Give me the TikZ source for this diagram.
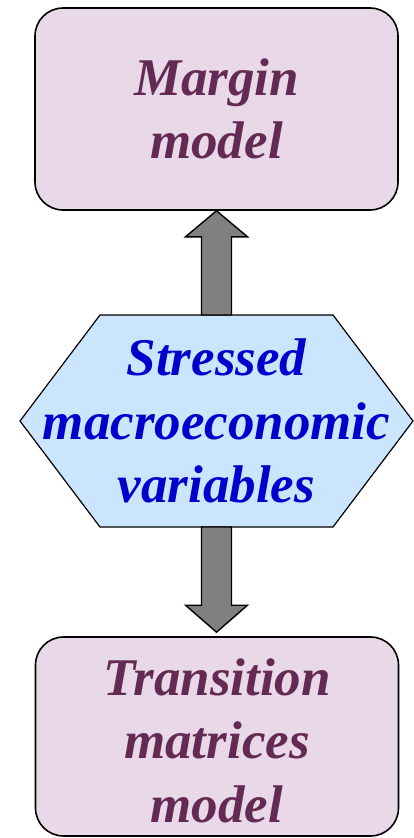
\documentclass[tikz,border=0pt]{standalone}
\usepackage{fontspec}
\setmainfont{Liberation Serif}
\usetikzlibrary{calc,backgrounds}
\definecolor{boxfill}{RGB}{232,216,232}
\definecolor{boxtext}{RGB}{99,43,83}
\definecolor{hexfill}{RGB}{204,229,255}
\definecolor{hextext}{RGB}{0,0,204}
\definecolor{arrfill}{RGB}{128,128,128}
\begin{document}
\begin{tikzpicture}[x=1pt,y=-1pt,
  bigfont/.style={font=\fontsize{53}{63.5}\selectfont\bfseries\itshape},
  modelbox/.style={draw=black, line width=1.6pt, fill=boxfill, rounded corners=28pt,
    minimum width=363pt, inner sep=0pt, align=center, bigfont, text=boxtext},
  hexnode/.style={inner sep=0pt, align=center, bigfont, text=hextext},
  hexshape/.style={draw=black, line width=1.2pt, fill=hexfill, line join=miter},
  blockarr/.style={draw=black, line width=1.4pt, fill=arrfill, line join=miter}]
\useasboundingbox (0,0) rectangle (414,838);

\node[modelbox, minimum height=202pt] (top) at (216.5,109) {Margin\\model};
\node[modelbox, minimum height=199pt] (bot) at (217,736.5)
  {\rule{0pt}{45pt}Transition\\matrices\\model};
\node[hexnode] (hex) at (216.5,421) {Stressed\\macroeconomic\\variables};
\begin{scope}[on background layer]
  \path[hexshape] ($(hex.center)+(-116.5,-106)$) -- ($(hex.center)+(116.5,-106)$)
    -- ($(hex.center)+(196.5,0)$) -- ($(hex.center)+(116.5,106)$)
    -- ($(hex.center)+(-116.5,106)$) -- ($(hex.center)+(-196.5,0)$) -- cycle;
\end{scope}
\coordinate (hexN) at ($(hex.center)+(0,-106)$);
\coordinate (hexS) at ($(hex.center)+(0,106)$);

% up arrow: hexagon -> margin model
\draw[blockarr] ($(hexN)+(-15,0)$) -- ($(top.south)+(-15,26)$)
  -- ($(top.south)+(-31,26)$) -- (top.south) -- ($(top.south)+(31,26)$)
  -- ($(top.south)+(15,26)$) -- ($(hexN)+(15,0)$) -- cycle;

% down arrow: hexagon -> transition matrices model
\coordinate (tip) at ($(bot.north)+(-0.5,-4)$);
\draw[blockarr] ($(hexS)+(-15,0)$) -- ($(tip)+(-15,-27)$)
  -- ($(tip)+(-31,-27)$) -- (tip) -- ($(tip)+(31,-27)$)
  -- ($(tip)+(15,-27)$) -- ($(hexS)+(15,0)$) -- cycle;
\end{tikzpicture}
\end{document}
